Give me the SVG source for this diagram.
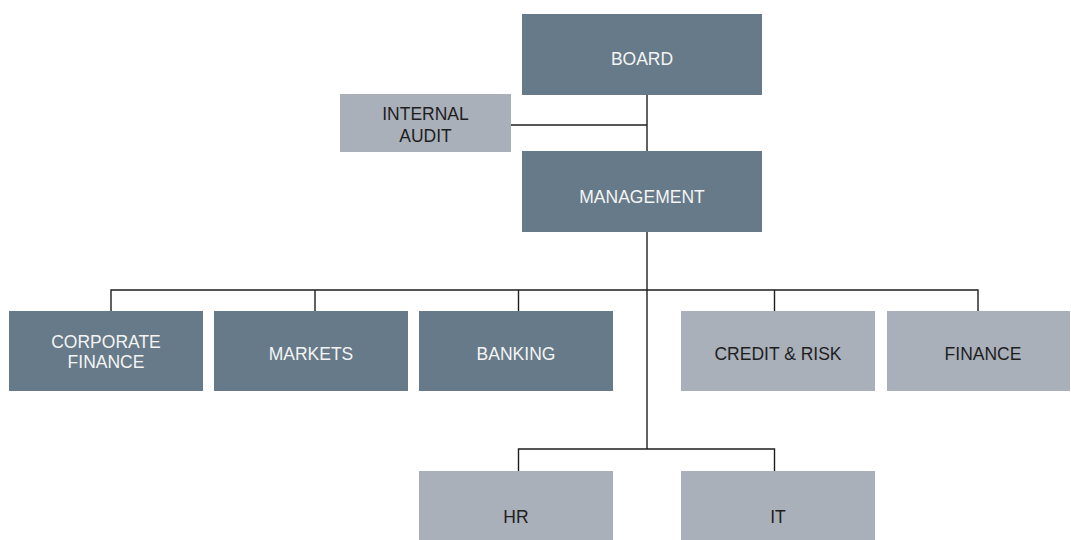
<svg xmlns="http://www.w3.org/2000/svg" width="1071" height="540" viewBox="0 0 1071 540">
  <style>
    .dark rect { fill: #667a89; }
    .light rect { fill: #a9b0ba; }
    text { font-family: "Liberation Sans", Arial, sans-serif; font-size: 17.5px; text-anchor: middle; }
    .dark text { fill: #f4f4f4; }
    .light text { fill: #1e1e1e; }
    #connectors path { fill: none; stroke: #1e1e1e; stroke-width: 1.4; }
  </style>
  <rect width="1071" height="540" fill="#ffffff"/>

  <g id="connectors">
    <!-- board to management spine -->
    <path d="M647 95 V151"/>
    <path d="M511 125 H647"/>
    <!-- management down to the departments -->
    <path d="M647 232 V449"/>
    <path d="M111 311 V290 H978 V311"/>
    <path d="M315 290 V311"/>
    <path d="M518.5 290 V311"/>
    <path d="M774.5 290 V311"/>
    <!-- support functions -->
    <path d="M518.5 471 V449 H774.5 V471"/>
  </g>

  <g id="board" class="dark">
    <rect x="522" y="14" width="240" height="81"/>
    <text x="642" y="65">BOARD</text>
  </g>
  <g id="internal-audit" class="light">
    <rect x="340" y="94" width="171" height="58"/>
    <text x="425.5" y="120">INTERNAL</text>
    <text x="425.5" y="141.5">AUDIT</text>
  </g>
  <g id="management" class="dark">
    <rect x="522" y="151" width="240" height="81"/>
    <text x="642" y="203">MANAGEMENT</text>
  </g>

  <g id="corporate-finance" class="dark">
    <rect x="9" y="311" width="194" height="80"/>
    <text x="106" y="347.5">CORPORATE</text>
    <text x="106" y="368">FINANCE</text>
  </g>
  <g id="markets" class="dark">
    <rect x="214" y="311" width="194" height="80"/>
    <text x="311" y="360">MARKETS</text>
  </g>
  <g id="banking" class="dark">
    <rect x="419" y="311" width="194" height="80"/>
    <text x="516" y="360">BANKING</text>
  </g>
  <g id="credit-risk" class="light">
    <rect x="681" y="311" width="194" height="80"/>
    <text x="778" y="360">CREDIT &amp; RISK</text>
  </g>
  <g id="finance" class="light">
    <rect x="887" y="311" width="183" height="80"/>
    <text x="983" y="360">FINANCE</text>
  </g>

  <g id="hr" class="light">
    <rect x="419" y="471" width="194" height="80"/>
    <text x="516" y="523">HR</text>
  </g>
  <g id="it" class="light">
    <rect x="681" y="471" width="194" height="80"/>
    <text x="778" y="523">IT</text>
  </g>
</svg>
